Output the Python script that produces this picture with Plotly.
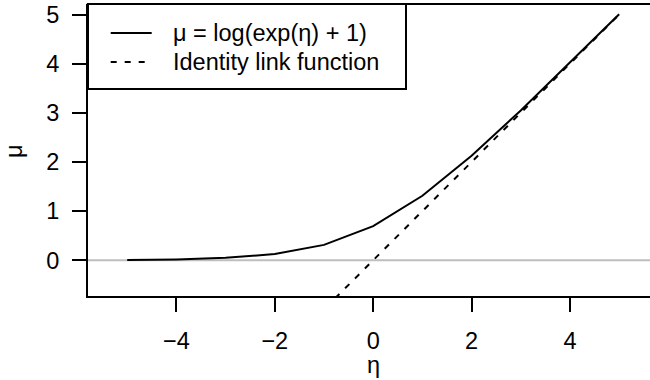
import plotly.graph_objects as go

# Link-function values on the linear predictor grid
eta = [-5, -4, -3, -2, -1, 0, 1, 2, 3, 4, 5]
mu_softplus = [0.007, 0.018, 0.049, 0.127, 0.313, 0.693, 1.313, 2.127, 3.049, 4.018, 5.007]
mu_identity = [-5, -4, -3, -2, -1, 0, 1, 2, 3, 4, 5]

x_ticks = [-4, -2, 0, 2, 4]
y_ticks = [0, 1, 2, 3, 4, 5]
legend_labels = ["μ = log(exp(η) + 1)", "Identity link function"]
x_title = "η"
y_title = "μ"

FONT = "Liberation Sans, Arial, Helvetica, sans-serif"
FS = 23.5

W, H = 650, 380
ML, MR, MT, MB = 88, 0, 4, 84
PW, PH = W - ML - MR, H - MT - MB


def px(xp):
    return (xp - ML) / PW


def py(yp):
    return (H - MB - yp) / PH


fig = go.Figure()
fig.add_trace(go.Scatter(x=eta, y=mu_softplus, mode="lines",
                         line=dict(color="black", width=2), showlegend=False))
fig.add_trace(go.Scatter(x=eta, y=mu_identity, mode="lines",
                         line=dict(color="black", width=2, dash="6px,8px"),
                         showlegend=False))

shapes = [
    # horizontal reference at zero
    dict(type="line", xref="paper", yref="y", x0=0, x1=1, y0=0, y1=0,
         line=dict(color="#BEBEBE", width=2), layer="below"),
    # top border of the plotting region
    dict(type="line", xref="paper", yref="paper", x0=-0.002, x1=1, y0=1, y1=1,
         line=dict(color="black", width=2)),
    # legend frame
    dict(type="rect", xref="paper", yref="paper", x0=px(88), x1=px(406),
         y0=py(89), y1=1, fillcolor="white", line=dict(color="black", width=2)),
    # legend keys
    dict(type="line", xref="paper", yref="paper", x0=px(110.7), x1=px(151.7),
         y0=py(33), y1=py(33), line=dict(color="black", width=2)),
    dict(type="line", xref="paper", yref="paper", x0=px(110.7), x1=px(151.7),
         y0=py(62), y1=py(62), line=dict(color="black", width=2, dash="6px,8px")),
]

annotations = [
    dict(text=legend_labels[0], xref="paper", yref="paper", x=px(171.0), y=py(33),
         xanchor="left", yanchor="middle", showarrow=False,
         font=dict(family=FONT, size=FS, color="black")),
    dict(text=legend_labels[1], xref="paper", yref="paper", x=px(171.0), y=py(62),
         xanchor="left", yanchor="middle", showarrow=False,
         font=dict(family=FONT, size=FS, color="black")),
    dict(text=x_title, xref="paper", yref="paper", x=px(373.3), y=py(365),
         xanchor="center", yanchor="middle", showarrow=False,
         font=dict(family=FONT, size=FS, color="black")),
    dict(text=y_title, xref="paper", yref="paper", x=px(14), y=py(151),
         xanchor="center", yanchor="middle", showarrow=False, textangle=-90,
         font=dict(family=FONT, size=FS, color="black")),
]

fig.update_layout(
    width=W, height=H,
    margin=dict(l=ML, r=MR, t=MT, b=MB, pad=0),
    paper_bgcolor="white", plot_bgcolor="white",
    font=dict(family=FONT, size=FS, color="black"),
    shapes=shapes, annotations=annotations,
    xaxis=dict(range=[-5.797, 5.627], tickvals=x_ticks, ticks="outside",
               ticklen=14, tickwidth=2, tickcolor="black", showline=True,
               linewidth=2, linecolor="black", showgrid=False, zeroline=False,
               ticklabelstandoff=9),
    yaxis=dict(range=[-0.727, 5.214], tickvals=y_ticks, ticks="outside",
               ticklen=14, tickwidth=2, tickcolor="black", showline=True,
               linewidth=2, linecolor="black", showgrid=False, zeroline=False,
               ticklabelstandoff=8),
)

fig.write_html("out.html")
